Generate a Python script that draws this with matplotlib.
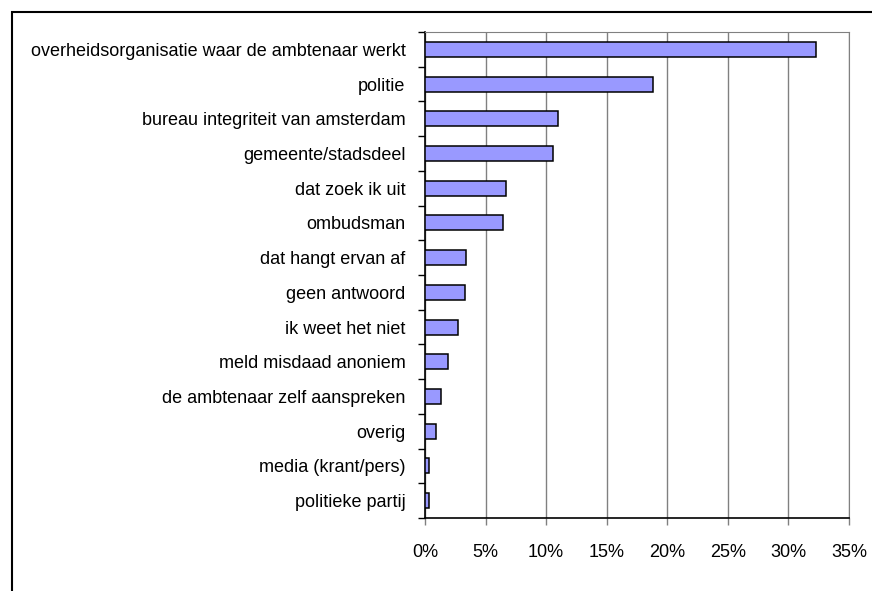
import matplotlib
matplotlib.use('Agg')
import matplotlib.pyplot as plt
from matplotlib.patches import Rectangle
from matplotlib.ticker import FuncFormatter, MultipleLocator, FixedLocator

# Data (percent)
categories = [
    'overheidsorganisatie waar de ambtenaar werkt',
    'politie',
    'bureau integriteit van amsterdam',
    'gemeente/stadsdeel',
    'dat zoek ik uit',
    'ombudsman',
    'dat hangt ervan af',
    'geen antwoord',
    'ik weet het niet',
    'meld misdaad anoniem',
    'de ambtenaar zelf aanspreken',
    'overig',
    'media (krant/pers)',
    'politieke partij',
]
values = [32.3, 18.8, 11.0, 10.6, 6.7, 6.4, 3.4, 3.3, 2.7, 1.9, 1.3, 0.9, 0.3, 0.3]
x_ticks = [0, 5, 10, 15, 20, 25, 30, 35]

plt.rcParams['font.family'] = ['Liberation Sans Narrow', 'Liberation Sans', 'DejaVu Sans']

fig = plt.figure(figsize=(8.72, 5.91), dpi=100)
ax = fig.add_axes([0.4874, 0.1235, 0.4862, 0.8223])

# outer chart frame (extends past right and bottom edge)
fig.patches.append(Rectangle((12 / 872, -0.05), 1.0, 1 - 12 / 591 + 0.05,
                             transform=fig.transFigure, fill=False,
                             edgecolor='black', linewidth=1.5))

pos = list(range(len(categories)))
ax.barh(pos, values, height=0.43, color='#9999FF', edgecolor='black',
        linewidth=1.1, zorder=3)

ax.set_ylim(len(categories) - 0.5, -0.5)
ax.set_xlim(0, 35)

ax.xaxis.set_major_locator(FixedLocator(x_ticks))
ax.xaxis.set_major_formatter(FuncFormatter(lambda v, p: f'{v:.0f}%'))
ax.grid(axis='x', color='#808080', linewidth=1.0, zorder=0)

ax.set_yticks(pos)
ax.set_yticklabels(categories)
ax.yaxis.set_minor_locator(FixedLocator([p - 0.5 for p in pos] + [len(pos) - 0.5]))
ax.tick_params(axis='y', which='major', length=0, pad=14, labelsize=13)
ax.tick_params(axis='y', which='minor', length=5, width=1, color='black')
ax.tick_params(axis='x', length=5, width=1, color='#808080', pad=14, labelsize=13)

ax.spines['left'].set_color('black')
ax.spines['bottom'].set_color('black')
ax.spines['left'].set_linewidth(1.2)
ax.spines['bottom'].set_linewidth(1.2)
ax.spines['top'].set_color('#808080')
ax.spines['right'].set_color('#808080')

fig.savefig('out.png', dpi=100)
